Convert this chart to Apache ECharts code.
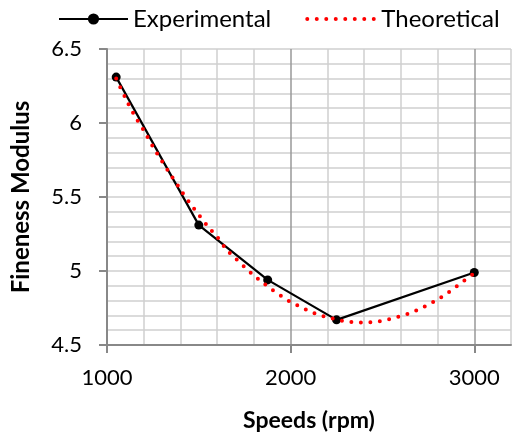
<!DOCTYPE html>
<html>
<head>
<meta charset="utf-8">
<script src="https://cdn.jsdelivr.net/npm/echarts@6/dist/echarts.min.js"></script>
<style>html,body{margin:0;padding:0;background:#fff}#c{width:515px;height:437px}</style>
</head>
<body>
<div id="c"></div>
<script>
const expSpeeds = [1050, 1500, 1875, 2250, 3000];
const expFM = [6.31, 5.31, 4.94, 4.67, 4.99];
const theoSpeeds = [1050,1100,1150,1200,1250,1300,1350,1400,1450,1500,1550,1600,1650,1700,1750,1800,1850,1900,1950,2000,2050,2100,2150,2200,2250,2300,2350,2400,2450,2500,2550,2600,2650,2700,2750,2800,2850,2900,2950,3000];
const theoFM = [6.30,6.17,6.05,5.95,5.84,5.74,5.645,5.55,5.46,5.38,5.30,5.23,5.145,5.085,5.025,4.97,4.92,4.873,4.83,4.79,4.76,4.73,4.705,4.688,4.672,4.66,4.653,4.652,4.655,4.664,4.678,4.695,4.715,4.742,4.773,4.807,4.847,4.892,4.94,4.985];
const xTicks = [1000, 2000, 3000];
const yTicks = [4.5, 5, 5.5, 6, 6.5];

const FONT = 'Lato';
const gridAxisX = {
  type: 'value', min: 1000, max: 3200, interval: 200, position: 'bottom',
  axisLine: {show: false}, axisTick: {show: false}, axisLabel: {show: false},
  splitLine: {show: true, lineStyle: {color: ['#999', '#cfcfcf', '#cfcfcf', '#cfcfcf', '#cfcfcf'], width: 1.5}},
  z: 0
};
const gridAxisY = {
  type: 'value', min: 4.5, max: 6.5, interval: 0.1, position: 'left',
  axisLine: {show: false}, axisTick: {show: false}, axisLabel: {show: false},
  splitLine: {show: true, lineStyle: {color: '#cfcfcf', width: 1.5}},
  z: 0
};
const chart = echarts.init(document.getElementById('c'), null, {renderer: 'canvas'});
chart.setOption({
  animation: false,
  backgroundColor: '#fff',
  textStyle: {fontFamily: FONT},
  legend: {
    left: 53, top: 2,
    itemWidth: 69, itemHeight: 14, itemGap: 34,
    textStyle: {fontFamily: FONT, fontSize: 24, color: '#000'},
    data: [
      {name: 'Experimental'},
      {name: 'Theoretical', itemStyle: {opacity: 0}, lineStyle: {width: 4}}
    ]
  },
  grid: {left: 107, right: 4, top: 49, bottom: 92, containLabel: false},
  xAxis: [{
    type: 'value', min: 1000, max: 3200, interval: 200, position: 'bottom',
    name: 'Speeds (rpm)', nameLocation: 'middle', nameGap: 64,
    nameTextStyle: {fontFamily: FONT, fontSize: 23, fontWeight: 'bold', color: '#000'},
    axisLine: {show: true, lineStyle: {color: '#888', width: 2}},
    axisTick: {show: true, length: 8, lineStyle: {color: '#888', width: 2}, customValues: xTicks},
    axisLabel: {fontFamily: FONT, fontSize: 22, color: '#000', margin: 22, customValues: xTicks,
      formatter: v => String(v)},
    splitLine: {show: false},
    z: 5
  }, gridAxisX],
  yAxis: [{
    type: 'value', min: 4.5, max: 6.5, interval: 0.1, position: 'left',
    name: 'Fineness Modulus', nameLocation: 'middle', nameGap: 74,
    nameTextStyle: {fontFamily: FONT, fontSize: 24, fontWeight: 'bold', color: '#000'},
    axisLine: {show: true, lineStyle: {color: '#888', width: 2}},
    axisTick: {show: true, length: 8, lineStyle: {color: '#888', width: 2}, customValues: yTicks},
    axisLabel: {fontFamily: FONT, fontSize: 22, color: '#000', margin: 25, customValues: yTicks,
      formatter: v => String(Math.round(v * 10) / 10)},
    splitLine: {show: false},
    z: 5
  }, gridAxisY],
  series: [
    {
      name: 'Experimental', type: 'line',
      data: expSpeeds.map((s, i) => [s, expFM[i]]),
      symbol: 'circle', symbolSize: 9,
      itemStyle: {color: '#000'},
      lineStyle: {color: '#000', width: 2.2},
      z: 2
    },
    {
      name: 'Theoretical', type: 'line',
      data: theoSpeeds.map((s, i) => [s, theoFM[i]]),
      symbol: 'circle', symbolSize: 1, showSymbol: false, smooth: 0.3,
      itemStyle: {color: '#ff0000'},
      lineStyle: {color: '#ff0000', width: 4, type: [0, 9.5], cap: 'round'},
      z: 3
    }
  ]
});
</script>
</body>
</html>
